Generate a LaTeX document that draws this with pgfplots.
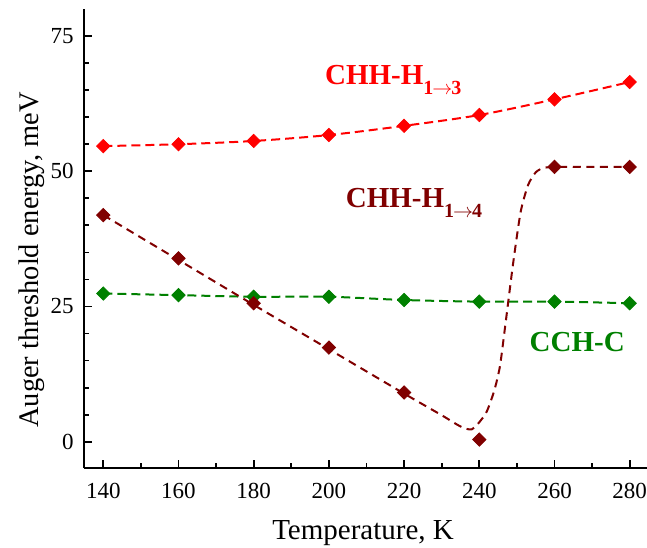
\documentclass[border=0pt]{standalone}
\usepackage{pgfplots}
\pgfplotsset{compat=1.18}
\usepackage{fontspec}
\setmainfont{Liberation Serif}
\definecolor{cred}{HTML}{FF0000}
\definecolor{cdark}{HTML}{800000}
\definecolor{cgreen}{HTML}{008000}
\begin{document}
\begin{tikzpicture}
\begin{axis}[
  scale only axis,
  width=281.5pt, height=229.5pt,
  xmin=134.87, xmax=284.6,
  ymin=-4.86, ymax=80,
  axis lines=left,
  axis line style={-, line width=1pt},
  xtick={140,160,...,280},
  minor xtick={150,170,...,270},
  ytick={0,25,50,75},
  minor ytick={5,10,15,20,30,35,40,45,55,60,65,70,75},
  tick align=inside,
  major tick length=4pt,
  minor tick length=2.5pt,
  every tick/.style={black, line width=0.9pt},
  tick label style={font=\fontsize{11.5}{13}\selectfont},
  xticklabel style={anchor=base, inner sep=0pt, yshift=-15pt},
  yticklabel style={anchor=east, inner sep=0pt, xshift=-5pt},
  /pgf/number format/assume math mode=true,
  xlabel={Temperature, K},
  ylabel={Auger threshold energy, meV},
  xlabel style={font=\fontsize{14.5}{16}\selectfont, at={(axis description cs:0.4956,-0.1547)}, anchor=base, inner sep=0pt},
  ylabel style={font=\fontsize{14.2}{16}\selectfont, at={(axis description cs:-0.0817,0.453)}, anchor=base, inner sep=0pt},
  clip=false,
  mark options={solid},
]
\coordinate (O) at (rel axis cs:0,0);
% CHH-H 1->3
\addplot[cred, line width=1pt, dash pattern=on 4.5pt off 2.5pt, smooth] coordinates {
(140,54.65) (160,55.0) (180,55.6) (200,56.7) (220,58.4) (240,60.4) (260,63.3) (280,66.5)};
\addplot[cred, only marks, mark=square*, mark size=2.35pt, mark options={rotate=45}] coordinates {
(140,54.65) (160,55.0) (180,55.6) (200,56.7) (220,58.4) (240,60.4) (260,63.3) (280,66.5)};
% CCH-C
\addplot[cgreen, line width=1pt, dash pattern=on 4.5pt off 2.5pt, smooth] coordinates {
(140,27.4) (160,27.1) (180,26.8) (200,26.8) (220,26.2) (240,25.9) (260,25.9) (280,25.6)};
\addplot[cgreen, only marks, mark=square*, mark size=2.35pt, mark options={rotate=45}] coordinates {
(140,27.4) (160,27.1) (180,26.8) (200,26.8) (220,26.2) (240,25.9) (260,25.9) (280,25.6)};
% CHH-H 1->4 fit curve
\addplot[cdark, line width=1pt, dash pattern=on 4pt off 2.8pt, smooth, tension=0.4] coordinates {
(140,41.9) (160,33.6) (180,25.3) (200,17.1) (220,8.9) (230,4.9) (234,3.2) (236,2.5) (238,2.3) (240,3.6) (242,5.6) (244,9.5) (245.5,14) (247,22) (249,33) (251,42.5) (253,47.5) (255,49.8) (257,50.6) (260,50.8) (270,50.8) (280,50.8)};
\addplot[cdark, only marks, mark=square*, mark size=2.35pt, mark options={rotate=45}] coordinates {
(140,41.9) (160,33.9) (180,25.6) (200,17.4) (220,9.1) (240,0.4) (260,50.8) (280,50.8)};
% annotations
\node[anchor=base west, text=cred, inner sep=0pt, font=\fontsize{14.5}{16}\selectfont\bfseries] at (axis cs:198.9,66.1) {CHH-H\raisebox{-5pt}{\fontsize{10}{11}\selectfont 1\kern-0.5pt$\rightarrow$\kern-0.5pt3}};
\node[anchor=base west, text=cdark, inner sep=0pt, font=\fontsize{14.5}{16}\selectfont\bfseries] at (axis cs:204.4,43.3) {CHH-H\raisebox{-5pt}{\fontsize{10}{11}\selectfont 1\kern-0.5pt$\rightarrow$\kern-0.5pt4}};
\node[anchor=base west, text=cgreen, inner sep=0pt, font=\fontsize{14.5}{16}\selectfont\bfseries] at (axis cs:253.3,16.6) {CCH-C};
\end{axis}
\pgfresetboundingbox
\path (O) ++(-42pt,-39.5pt) rectangle ++(323.5pt,273.5pt);
\end{tikzpicture}
\end{document}
